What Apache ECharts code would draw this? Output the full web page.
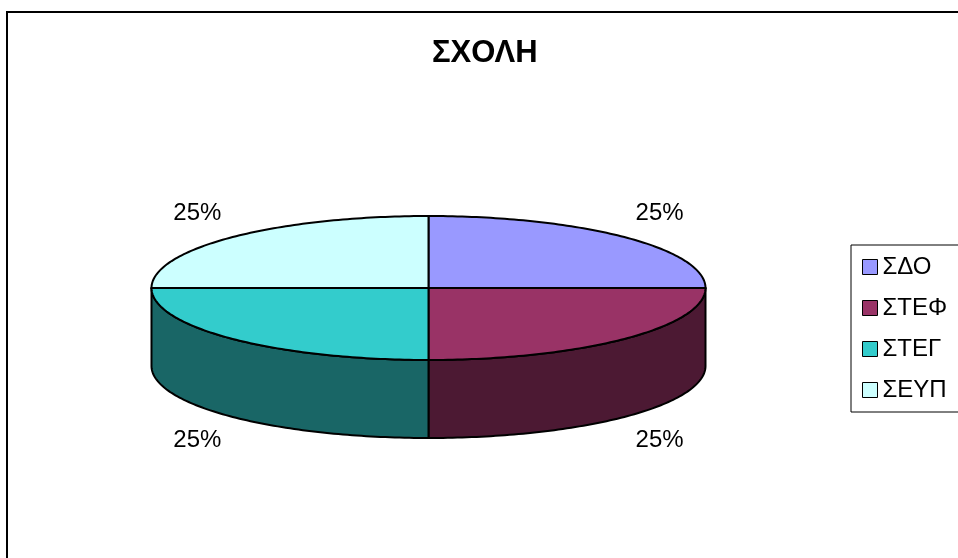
<!DOCTYPE html>
<html><head><meta charset="utf-8">
<script src="https://cdn.jsdelivr.net/npm/echarts@6/dist/echarts.min.js"></script>
<style>html,body{margin:0;padding:0;background:#fff}#c{width:958px;height:558px}</style>
</head><body><div id="c"></div>
<script>
const titleText = 'ΣΧΟΛΗ';
const categories = ['ΣΔΟ', 'ΣΤΕΦ', 'ΣΤΕΓ', 'ΣΕΥΠ'];
const values = [25, 25, 25, 25];
const topColors = ['#9999FF', '#993366', '#33CCCC', '#CCFFFF'];
const sideColors = ['#4C4C80', '#4C1933', '#196666', '#668080'];

const CX = 428.5, CY = 288, RX = 277, RY = 72, DEPTH = 78;
const total = values.reduce((a, b) => a + b, 0);
const starts = []; let acc = 0;
values.forEach(v => { starts.push(acc / total * 2 * Math.PI); acc += v; });

function pt(t, dy) { return [CX + RX * Math.sin(t), CY - RY * Math.cos(t) + (dy || 0)]; }
function arcPts(a0, a1, dy) {
  const n = Math.max(2, Math.ceil((a1 - a0) / (Math.PI / 180)));
  const out = [];
  for (let i = 0; i <= n; i++) out.push(pt(a0 + (a1 - a0) * i / n, dy));
  return out;
}
function makeRender(idx) {
  return function (params, api) {
    const a0 = starts[idx], a1 = a0 + values[idx] / total * 2 * Math.PI;
    const children = [];
    const s0 = Math.max(a0, Math.PI / 2), s1 = Math.min(a1, Math.PI * 1.5);
    if (s1 > s0) {
      const top = arcPts(s0, s1, 0);
      const bot = arcPts(s0, s1, DEPTH).reverse();
      children.push({ type: 'polygon', shape: { points: top.concat(bot) },
        style: { fill: sideColors[idx], stroke: '#000', lineWidth: 2 } });
    }
    children.push({ type: 'polygon', shape: { points: [[CX, CY]].concat(arcPts(a0, a1, 0)) },
      style: { fill: topColors[idx], stroke: '#000', lineWidth: 2 } });
    const m = (a0 + a1) / 2;
    const lx = CX + Math.sin(m) * RX * 1.18;
    const ly = CY - Math.cos(m) * RY * 1.47 + (Math.cos(m) < 0 ? DEPTH : 0);
    children.push({ type: 'text', style: { text: Math.round(values[idx] / total * 100) + '%',
      x: lx, y: ly, align: 'center', verticalAlign: 'middle',
      font: '24px "Liberation Sans", Arial, sans-serif', fill: '#000' } });
    return { type: 'group', children };
  };
}

const chart = echarts.init(document.getElementById('c'), null, { renderer: 'canvas' });
chart.setOption({
  animation: false,
  backgroundColor: '#fff',
  title: { text: titleText, left: 432, top: 38, padding: 0,
    textStyle: { fontSize: 31, fontWeight: 'bold', fontFamily: 'Liberation Sans', color: '#000' } },
  legend: { orient: 'vertical', left: 851, top: 245, data: categories, icon: 'rect',
    itemWidth: 15, itemHeight: 15, itemGap: 17, padding: [10, 60, 10, 11],
    borderColor: '#000', borderWidth: 1, selectedMode: false,
    itemStyle: { borderColor: '#000', borderWidth: 1 },
    textStyle: { fontFamily: 'Liberation Sans', fontSize: 24, color: '#000' } },
  graphic: [{ type: 'rect', shape: { x: 7, y: 12, width: 1000, height: 600 },
    style: { fill: 'none', stroke: '#000', lineWidth: 2 }, silent: true, z: 100 }],
  series: categories.map((name, idx) => ({
    type: 'custom', name, coordinateSystem: 'none', renderItem: makeRender(idx),
    data: [values[idx]], itemStyle: { color: topColors[idx] }, silent: true
  }))
});
</script></body></html>
